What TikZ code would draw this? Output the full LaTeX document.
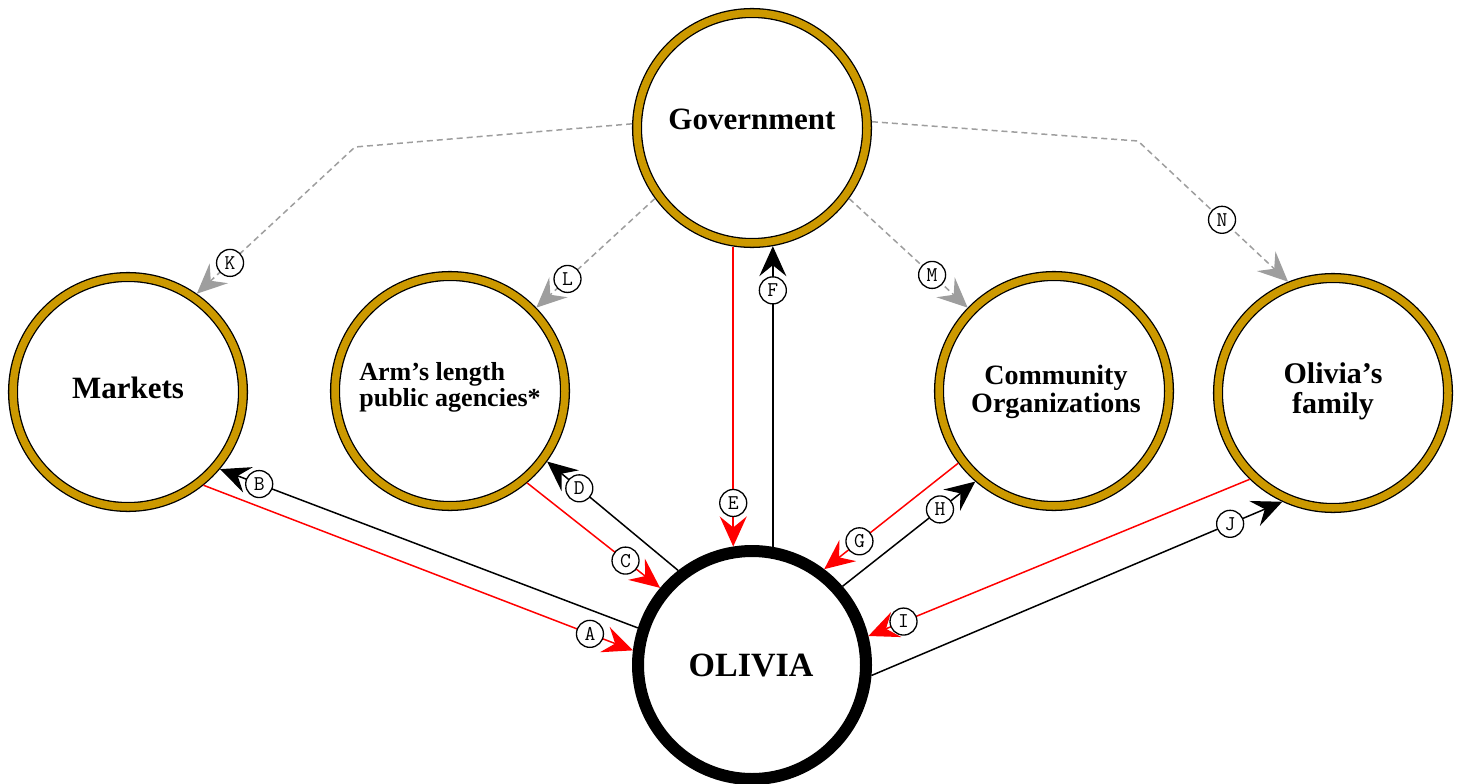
\documentclass[tikz,border=0pt]{standalone}
\usepackage{fontspec}
\setmainfont{Liberation Serif}
\usetikzlibrary{arrows.meta}
\definecolor{gold}{RGB}{204,153,0}
\definecolor{arrgray}{RGB}{158,158,158}
\begin{document}
\begin{tikzpicture}[x=1pt,y=-1pt,
  actor/.style={circle, draw=black, line width=1.3pt, double=gold, double distance=7.5pt,
    fill=white, minimum size=230pt, inner sep=0pt, outer sep=5pt},
  focal/.style={circle, draw=black, line width=12pt, fill=white,
    minimum size=228pt, inner sep=0pt, outer sep=6pt},
  ttl/.style={font=\bfseries\fontsize{#1}{#1}\selectfont, inner sep=0pt},
  lab/.style={circle, draw=black, solid, line width=1.3pt, fill=white, inner sep=0pt,
    minimum size=27pt, text=black, font=\ttfamily\fontsize{21}{21}\selectfont},
  tipstyle/.style={-{Stealth[length=30pt,width=27pt,inset=11pt]}},
  blkline/.style={draw=black, line width=1.5pt, tipstyle},
  redline/.style={draw=red, line width=1.5pt, tipstyle},
  gryline/.style={draw=arrgray, line width=1.5pt, dash pattern=on 6pt off 4pt, tipstyle}]
\useasboundingbox (0,0) rectangle (1464,784);
% actors
\node[actor] (gov) at (752,128) {};
\node[actor] (mk) at (128,392) {};
\node[actor] (arm) at (450,391) {};
\node[actor] (com) at (1054,391) {};
\node[actor] (fam) at (1333,393) {};
\node[focal] (ol) at (752,665) {};
% texts
\node[ttl=31] (tgov) at (752,119) {Government};
\node[ttl=31] (tmk) at (128,388) {Markets};
\node[ttl=26, align=left, text depth=0pt] (tarm) at (450,384) {\baselineskip=31pt Arm’s length\\ public agencies*};
\node[ttl=28, align=center] (tcom) at (1056,392) {\baselineskip=31pt Community\\ Organizations};
\node[ttl=30, align=center] (tfam) at (1333,391) {\baselineskip=34pt Olivia’s\\ family};
\node[ttl=34] (tol) at (751,665) {OLIVIA};
% bend points
\coordinate (kk) at (355,147);
\coordinate (nn) at (1138,141);
% connectors
\draw[redline] (mk.-51) -- (ol.173) node[lab,pos=0.9] (lA) {A};
\draw[blkline] (ol.162) -- (mk.-40) node[lab,pos=0.906] (lB) {B};
\draw[redline] (arm.-50) -- (ol.140) node[lab,pos=0.74] (lC) {C};
\draw[blkline] (ol.128) -- (arm.-36) node[lab,pos=0.754] (lD) {D};
\draw[redline] (gov.-99.8) -- (ol.99.8) node[lab,pos=0.855] (lE) {E};
\draw[blkline] (ol.80) -- (gov.-80) node[lab,pos=0.853] (lF) {F};
\draw[redline] (com.-143) -- (ol.53) node[lab,pos=0.737] (lG) {G};
\draw[blkline] (ol.41) -- (com.-131) node[lab,pos=0.734] (lH) {H};
\draw[redline] (fam.-134) -- (ol.14) node[lab,pos=0.908] (lI) {I};
\draw[blkline] (ol.-5.6) -- (fam.-115) node[lab,pos=0.873] (lJ) {J};
\draw[gryline] (gov.178) -- (kk) -- (mk.55) node[lab,pos=0.79] (lK) {K};
\draw[gryline] (gov.-144) -- (arm.44) node[lab,pos=0.737] (lL) {L};
\draw[gryline] (gov.-36) -- (com.136) node[lab,pos=0.70] (lM) {M};
\draw[gryline] (gov.3.3) -- (nn) -- (fam.112) node[lab,pos=0.56] (lN) {N};
\end{tikzpicture}
\end{document}
